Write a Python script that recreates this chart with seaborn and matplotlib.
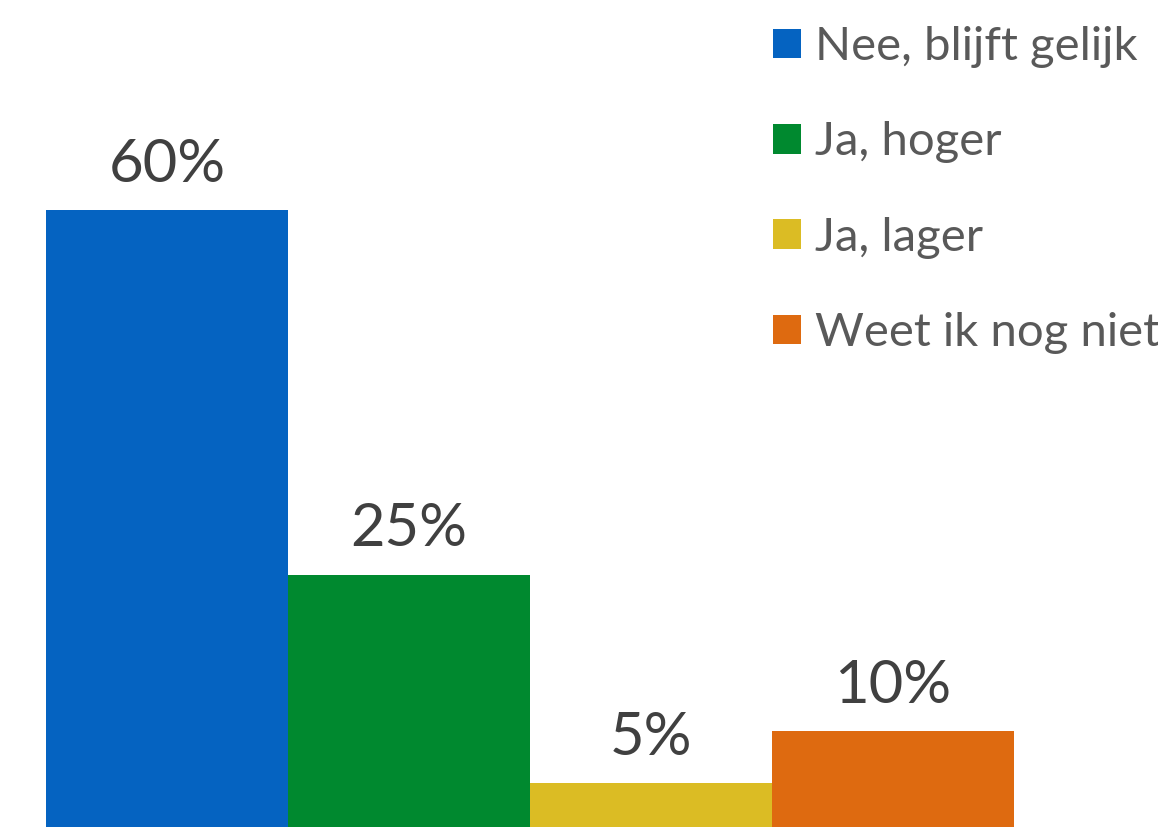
# Bar chart with legend at the top right, values on top of the bars
import matplotlib
matplotlib.use("Agg")
import pandas as pd
import matplotlib.pyplot as plt
import seaborn as sns

categories = ["Nee, blijft gelijk", "Ja, hoger", "Ja, lager", "Weet ik nog niet"]
values = [60, 25, 5, 10]
colors = ["#0563C1", "#00892F", "#DBBC24", "#DE6A10"]

df = pd.DataFrame({"antwoord": categories, "pct": values})

sns.set_theme(style="white")
plt.rcParams["font.family"] = ["Lato", "DejaVu Sans"]

W, H = 1158, 827
fig = plt.figure(figsize=(W / 100, H / 100), dpi=100)

# px per percent, baseline sits just below the figure edge
k = 10.418
base = 835
ymax = 70
ax = fig.add_axes([46 / W, (H - base) / H, 968 / W, ymax * k / H])

sns.barplot(data=df, x="antwoord", y="pct", hue="antwoord", palette=colors,
            width=1.0, dodge=False, legend=True, saturation=1,
            linewidth=0, ax=ax)

ax.set_xlim(-0.5, 3.5)
ax.set_ylim(0, ymax)
for c in ax.containers:
    ax.bar_label(c, labels=[f"{v:.0f}%" for v in c.datavalues],
                 padding=13, fontsize=43, color="#404040")

ax.set_xlabel("")
ax.set_ylabel("")
ax.set_xticks([])
ax.set_yticks([])
sns.despine(ax=ax, left=True, bottom=True)

sns.move_legend(ax, "upper left", bbox_to_anchor=(773 / W, 1 - 26 / H),
                bbox_transform=fig.transFigure, frameon=False, title=None,
                fontsize=34, handlelength=0.59, handleheight=0.59,
                handletextpad=0.3, labelspacing=1.13, borderpad=0,
                borderaxespad=0, labelcolor="#595959")

fig.savefig("out.png", dpi=100)
